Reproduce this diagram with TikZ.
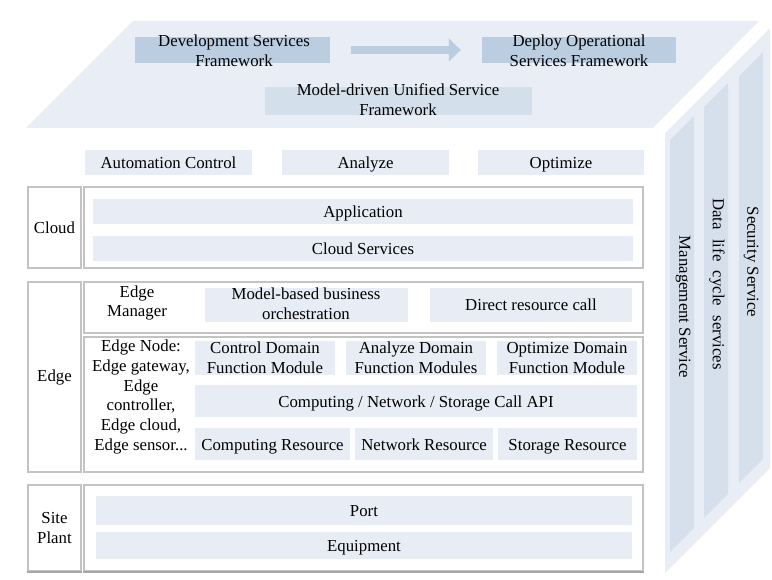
\documentclass[tikz,border=0pt]{standalone}
\usepackage{fontspec}
\setmainfont{Liberation Serif}
\usetikzlibrary{arrows.meta}

\definecolor{faceblue}{HTML}{E9EEF6}
\definecolor{barblue}{HTML}{E8EDF5}
\definecolor{colblue}{HTML}{D6E0EC}
\definecolor{darkblue}{HTML}{BACDE1}
\definecolor{midblue}{HTML}{D3DFEB}
\definecolor{linegrey}{HTML}{C3C3C3}

\begin{document}
\begin{tikzpicture}[x=1pt, y=-1pt,
    font=\fontsize{16.8}{19.8}\selectfont,
    face/.style={fill=faceblue},
    column/.style={fill=colblue},
    frame/.style={draw=linegrey, line width=1.1pt, fill=white, inner sep=0pt, align=center},
    bar/.style={fill=barblue, inner sep=0pt, text height=13pt, text depth=1pt},
    darkbox/.style={fill=darkblue, inner sep=0pt},
    midbox/.style={fill=midblue, inner sep=0pt},
    lbl/.style={align=center, inner sep=0pt},
    bigarrow/.style={draw=darkblue, line width=8pt,
        -{Triangle[length=12pt, width=23pt]},
        shorten <=21pt, shorten >=21pt}]
        \useasboundingbox (0,0) rectangle (772,580);

        % Top and side faces
        \fill[face] (133,21) -- (759,21) -- (653,128) -- (26,128) -- cycle;
        \fill[face] (665,133) -- (770,28) -- (770,468) -- (665,573) -- cycle;
        \fill[column] (670,140) -- (694,116) -- (694,528) -- (670,552) -- cycle;
        \fill[column] (704,107) -- (728,83) -- (728,494) -- (704,518) -- cycle;
        \fill[column] (739,76) -- (763,52) -- (763,459) -- (739,483) -- cycle;
        \node[lbl, rotate=-90] (mgmt) at (683,307) {Management Service};
        \node[lbl, rotate=-90] (data) at (717,284) {Data\hspace{0.3em} life\hspace{0.3em} cycle\hspace{0.3em} services};
        \node[lbl, rotate=-90] (sec) at (751,262) {Security Service};

        % Service frameworks
        \node[darkbox, minimum width=195, minimum height=26] (dev) at (232.5,50) {};
        \node[darkbox, minimum width=194, minimum height=26] (deploy) at (579,50) {};
        \node[midbox, minimum width=267, minimum height=28] (model) at (398.5,101) {};
        \node[lbl] (devtxt) at (234,51) {Development Services\\Framework};
        \node[lbl] (deploytxt) at (579,51) {Deploy Operational\\Services Framework};
        \node[lbl] (modeltxt) at (398,100) {Model-driven Unified Service\\Framework};
        \draw[bigarrow] (dev.east) -- (deploy.west);

        % Automation row
        \node[bar, minimum width=167, minimum height=25] (auto) at (168.5,162.5) {Automation Control};
        \node[bar, minimum width=167, minimum height=25] (analyze) at (365.5,162.5) {Analyze};
        \node[bar, minimum width=166, minimum height=25] (optimize) at (561,162.5) {Optimize};

        % Cloud
        \node[frame, minimum width=53, minimum height=81] (cloud) at (54.5,227.5) {Cloud};
        \node[frame, minimum width=559, minimum height=81] (cloudbox) at (363.5,227.5) {};
        \node[bar, minimum width=540, minimum height=25] (app) at (363,211.5) {Application};
        \node[bar, minimum width=540, minimum height=25] (cloudsrv) at (363,249) {Cloud Services};

        % Edge
        \node[frame, minimum width=53, minimum height=190] (edge) at (54.5,377) {Edge};
        \node[frame, minimum width=559, minimum height=51] (mgrbox) at (363.5,307.5) {};
        \node[lbl] (mgr) at (137,303) {Edge\\Manager};
        \node[bar, minimum width=203, minimum height=34] (orch) at (306.5,305) {};
        \node[lbl] (orchtxt) at (306,304) {Model-based business\\orchestration};
        \node[bar, minimum width=202, minimum height=34] (direct) at (531,305) {Direct resource call};
        \node[frame, minimum width=559, minimum height=135] (nodebox) at (363.5,404.5) {};
        \node[lbl] (edgenode) at (141,397) {Edge Node:\\Edge gateway,\\Edge\\controller,\\Edge cloud,\\Edge sensor...};
        \node[bar, minimum width=140, minimum height=34] (ctrl) at (265,358) {};
        \node[bar, minimum width=140, minimum height=34] (anlz) at (416,358) {};
        \node[bar, minimum width=140, minimum height=34] (optm) at (567,358) {};
        \node[lbl] (ctrltxt) at (265,358) {Control Domain\\Function Module};
        \node[lbl] (anlztxt) at (416,358) {Analyze Domain\\Function Modules};
        \node[lbl] (optmtxt) at (567,358) {Optimize Domain\\Function Module};
        \node[bar, minimum width=442, minimum height=32] (api) at (416,401) {Computing / Network / Storage Call API};
        \node[bar, minimum width=155, minimum height=32] (comp) at (272.5,444) {Computing Resource};
        \node[bar, minimum width=138, minimum height=32] (net) at (424,444) {Network Resource};
        \node[bar, minimum width=139, minimum height=32] (stor) at (567.5,444) {Storage Resource};

        % Site plant
        \node[frame, minimum width=53, minimum height=86] (site) at (54.5,528) {Site\\Plant};
        \node[frame, minimum width=559, minimum height=86] (sitebox) at (363.5,528) {};
        \draw[draw=gray!70, line width=2pt] (site.south west) -- (site.south east);
        \draw[draw=gray!70, line width=2pt] (sitebox.south west) -- (sitebox.south east);
        \node[bar, minimum width=536, minimum height=29] (port) at (364,510.5) {Port};
        \node[bar, minimum width=536, minimum height=27] (equip) at (364,545.5) {Equipment};
    \end{tikzpicture}
\end{document}
